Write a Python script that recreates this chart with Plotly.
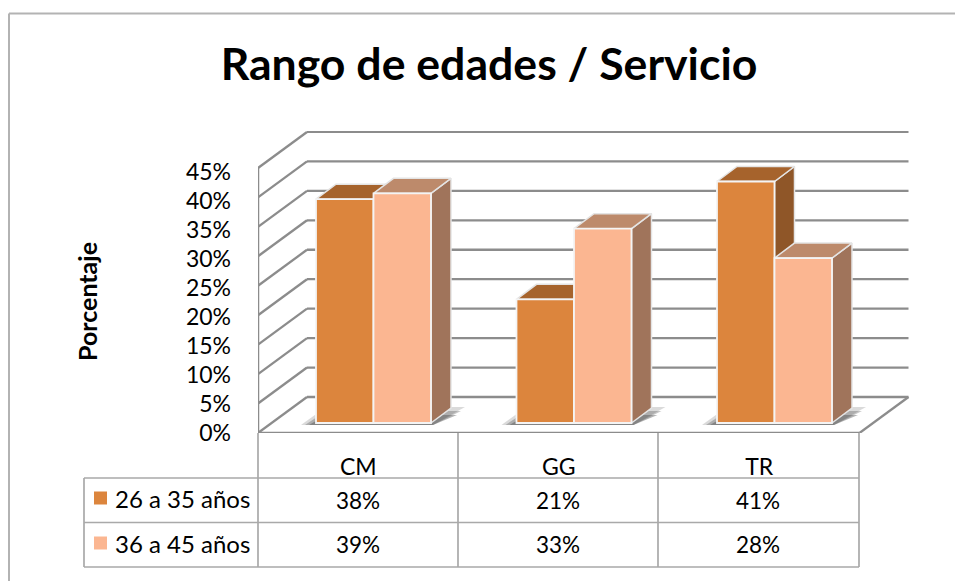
import plotly.graph_objects as go

categories = ["CM", "GG", "TR"]
series_names = ["26 a 35 años", "36 a 45 años"]
values_a = [38, 21, 41]
values_b = [39, 33, 28]
y_ticks = [0, 5, 10, 15, 20, 25, 30, 35, 40, 45]

W, H = 955, 581
FONT = "Lato"
GRID = "#8c8c8c"
TAB = "#a9a9a9"
FRONT = ["#DC853D", "#FBB691"]
TOP = ["#A6632C", "#BD8A6B"]
SIDE = ["#8F5628", "#A0745B"]
EDGE = "#e4e4e4"

# axis calibration (units per pixel)
ux, uy = 1 / 200.5, 1 / 5.89
X0, Y0, X1, Y1 = 258, 433, 910, 131
xmax, ymax = (X1 - X0) * ux, (Y0 - Y1) * uy
floor_w = 3.0
wall_dx, wall_dy = 49 * ux, 36 * uy
bar_w = 57.5 * ux
bar_dx, bar_base = 0.076, 10 * uy
cap_dx, cap_dy = 20 * ux, 15 * uy
cats = [i + 0.5 for i in range(len(categories))]

# label axis: its 45 sits at this pixel row, slightly tighter than the back wall
LBL_Y1 = 171.5
lbl_scale = (Y0 - LBL_Y1) / y_ticks[-1]
lbl_range = [0, (Y0 - Y1) / lbl_scale]

def px(x):
    return x / W
def py(y):
    return 1 - y / H

fig = go.Figure()
shapes = []

def seg(x0, y0, x1, y1, color=GRID, w=2.3, ref="xy"):
    if ref == "xy":
        shapes.append(dict(type="line", xref="x", yref="y", x0=x0, y0=y0, x1=x1, y1=y1,
                           line=dict(color=color, width=w), layer="below"))
    else:
        shapes.append(dict(type="line", xref="paper", yref="paper", x0=px(x0), y0=py(y0),
                           x1=px(x1), y1=py(y1), line=dict(color=color, width=w), layer="below"))

# walls and floor
for t in y_ticks:
    seg(wall_dx, t + wall_dy, floor_w + wall_dx, t + wall_dy)
    seg(0, t, wall_dx, t + wall_dy)
seg(0, 0, 0, y_ticks[-1], w=2.5)
seg(0, 0, floor_w, 0, w=2.5)
seg(floor_w, 0, floor_w + wall_dx, wall_dy)

# table grid
seg(258, 433, 258, 567, TAB, 1.7, "p")
for x in (458, 658, 859):
    seg(x, 433, x, 567, TAB, 1.7, "p")
seg(84, 478, 84, 567, TAB, 1.7, "p")
for y in (478, 522.5, 567):
    seg(84, y, 859, y, TAB, 1.7, "p")
# frame
seg(9, 13.5, 955, 13.5, "#b3b3b3", 2, "p")
seg(9, 13.5, 9, 581, "#b3b3b3", 2, "p")

# contact shadows
for c in cats:
    xl = c + bar_dx - bar_w
    xr = c + bar_dx + bar_w
    for inset, alpha in ((0, 0.2), (4, 0.3), (8, 0.4)):
        i = inset * ux
        fig.add_trace(go.Scatter(
            x=[xl - 15 * ux + i, xr + cap_dx * 0.1, xr + cap_dx + 14 * ux - i, xl + 10 * ux],
            y=[bar_base - 2 * uy, bar_base - 2 * uy, bar_base + 16 * uy - inset * uy, bar_base + 16 * uy - inset * uy],
            fill="toself", mode="none", fillcolor=f"rgba(70,70,70,{alpha})",
            showlegend=False, hoverinfo="skip"))

# depth faces, back to front
for s, vals in enumerate((values_a, values_b)):
    for c, v in zip(cats, vals):
        xl = c + bar_dx + (s - 1) * bar_w
        xr = xl + bar_w
        top = bar_base + v
        fig.add_trace(go.Scatter(
            x=[xr, xr + cap_dx, xr + cap_dx, xr, xr],
            y=[bar_base, bar_base + cap_dy, top + cap_dy, top, bar_base],
            fill="toself", mode="lines", fillcolor=SIDE[s], line=dict(color=EDGE, width=1.5),
            showlegend=False, hoverinfo="skip"))
        fig.add_trace(go.Scatter(
            x=[xl, xl + cap_dx, xr + cap_dx, xr, xl],
            y=[top, top + cap_dy, top + cap_dy, top, top],
            fill="toself", mode="lines", fillcolor=TOP[s], line=dict(color=EDGE, width=1.5),
            showlegend=False, hoverinfo="skip"))

# front faces
for s, vals in enumerate((values_a, values_b)):
    fig.add_trace(go.Bar(
        x=[c + bar_dx + (s - 0.5) * bar_w for c in cats], y=vals, base=bar_base, width=bar_w,
        name=series_names[s], marker=dict(color=FRONT[s], line=dict(color="#f4f4f4", width=1.8)),
        xaxis="x2", yaxis="y2", showlegend=False))

# carrier for the value axis labels
fig.add_trace(go.Scatter(x=[0] * len(y_ticks), y=y_ticks, mode="none", yaxis="y3", showlegend=False, hoverinfo="skip"))

def note(text, x, y, size, anchor="center", **kw):
    return dict(text=text, x=px(x), y=py(y), xref="paper", yref="paper", xanchor=anchor, yanchor="middle",
                showarrow=False, font=dict(family=FONT, size=size, color="#000000"), **kw)

annotations = [note("<b>Porcentaje</b>", 87, 302, 25, textangle=-90)]
for i, cat in enumerate(categories):
    cx = (258, 458, 658)[i] + 100
    for row, vals in enumerate((values_a, values_b)):
        annotations.append(note(f"{vals[i]}%", cx, (500, 544.5)[row], 22.5))
for row, name in enumerate(series_names):
    cy = (498, 543)[row]
    annotations.append(note(name, 113, cy, 24, anchor="left"))
    shapes.append(dict(type="rect", xref="paper", yref="paper", x0=px(94), x1=px(107), y0=py(cy - 6.5), y1=py(cy + 6.5),
                       fillcolor=FRONT[row], line=dict(width=0)))

fig.update_layout(
    width=W, height=H, margin=dict(l=0, r=0, t=0, b=0),
    paper_bgcolor="white", plot_bgcolor="rgba(0,0,0,0)", showlegend=False, barmode="overlay",
    title=dict(text="<b>Rango de edades / Servicio</b>", x=489 / W, xanchor="center", y=py(64.5), yanchor="middle",
               font=dict(family=FONT, size=44.6, color="#000000")),
    xaxis=dict(domain=[px(X0), px(X1)], range=[0, xmax], tickmode="array", tickvals=cats, ticktext=categories,
               showgrid=False, zeroline=False, showline=False, ticks="", ticklabelstandoff=18, automargin=False,
               tickfont=dict(family=FONT, size=23, color="#000000")),
    yaxis=dict(domain=[py(Y0), py(Y1)], range=[0, ymax], showticklabels=False, showgrid=False, zeroline=False,
               showline=False, ticks="", automargin=False),
    xaxis2=dict(domain=[px(X0), px(X1)], range=[0, xmax], overlaying="x", visible=False, automargin=False),
    yaxis2=dict(domain=[py(Y0), py(Y1)], range=[0, ymax], overlaying="y", visible=False, automargin=False),
    yaxis3=dict(domain=[py(Y0), py(Y1)], range=lbl_range, overlaying="y", anchor="x", tickmode="array",
                tickvals=y_ticks, ticktext=[f"{t}%" for t in y_ticks], showgrid=False, zeroline=False, showline=False,
                ticks="", ticklabelstandoff=26, automargin=False, tickfont=dict(family=FONT, size=23, color="#000000")),
    shapes=shapes, annotations=annotations,
)
fig.write_html("out.html", config={"displayModeBar": False, "responsive": False},
               post_script="document.body.style.margin='0';document.body.style.overflow='hidden';")
